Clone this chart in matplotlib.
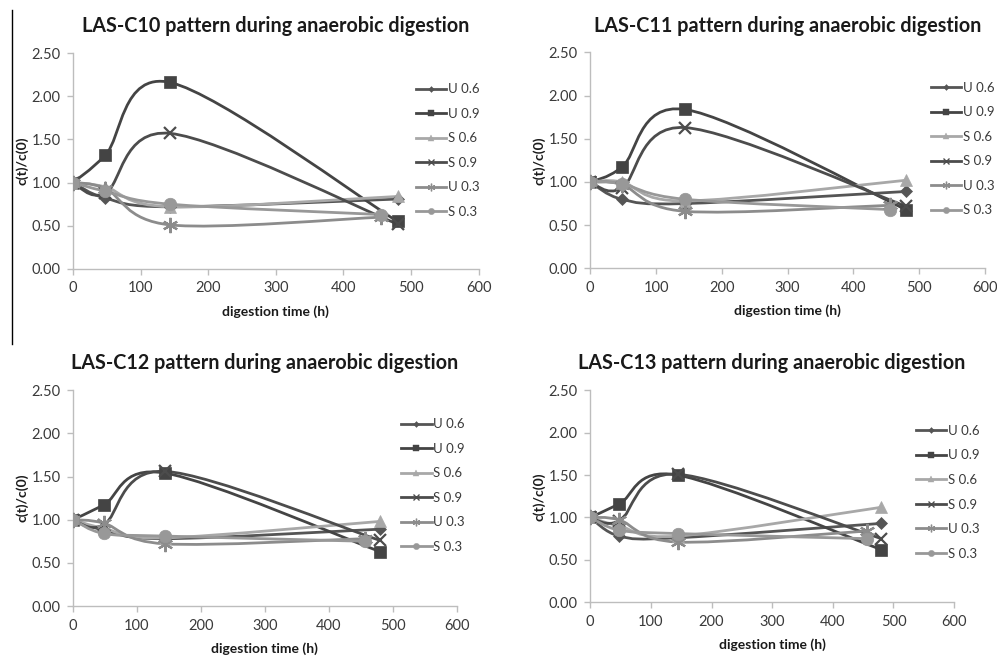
import matplotlib
matplotlib.use("Agg")
import matplotlib.pyplot as plt
from matplotlib.lines import Line2D
from matplotlib.patches import PathPatch
from matplotlib.path import Path

plt.rcParams["font.family"] = ["Lato", "DejaVu Sans"]

# sampling times (h); the U 0.3 / S 0.3 runs were stopped a little earlier
times_long = [0, 48, 144, 480]
times_short = [0, 48, 144, 456]

series_labels = ["U 0.6", "U 0.9", "S 0.6", "S 0.9", "U 0.3", "S 0.3"]
series_short = [False, False, False, False, True, True]

titles = [
    "LAS-C10 pattern during anaerobic digestion",
    "LAS-C11 pattern during anaerobic digestion",
    "LAS-C12 pattern during anaerobic digestion",
    "LAS-C13 pattern during anaerobic digestion",
]

# c(t)/c(0) per series, same order as series_labels
c10_values = [
    [1.00, 0.82, 0.72, 0.81],
    [1.00, 1.32, 2.16, 0.55],
    [1.00, 0.95, 0.72, 0.84],
    [1.00, 0.88, 1.57, 0.52],
    [1.00, 0.93, 0.51, 0.60],
    [1.00, 0.90, 0.75, 0.63],
]
c11_values = [
    [1.00, 0.80, 0.75, 0.89],
    [1.00, 1.17, 1.84, 0.68],
    [1.00, 1.00, 0.78, 1.02],
    [1.00, 0.93, 1.63, 0.72],
    [1.00, 0.97, 0.66, 0.73],
    [1.00, 0.98, 0.80, 0.68],
]
c12_values = [
    [1.00, 0.88, 0.78, 0.89],
    [1.00, 1.17, 1.54, 0.63],
    [1.00, 0.90, 0.79, 0.98],
    [1.00, 0.94, 1.56, 0.76],
    [1.00, 0.96, 0.72, 0.78],
    [1.00, 0.84, 0.81, 0.75],
]
c13_values = [
    [1.00, 0.78, 0.76, 0.93],
    [1.00, 1.16, 1.50, 0.62],
    [1.00, 0.90, 0.78, 1.12],
    [1.00, 0.96, 1.51, 0.75],
    [1.00, 0.97, 0.71, 0.84],
    [1.00, 0.85, 0.81, 0.75],
]
panel_values = [c10_values, c11_values, c12_values, c13_values]

colors = ["#555555", "#444444", "#a8a8a8", "#4c4c4c", "#8c8c8c", "#989898"]
markers = ["D", "s", "^", "x", (6, 2, 0), "o"]
marker_sizes = [6, 9, 9, 9, 11, 9]

# axes rectangles and legend anchors (figure fractions / axes fractions)
axes_rects = [
    [0.0732, 0.590, 0.407, 0.329],
    [0.592, 0.591, 0.396, 0.329],
    [0.0732, 0.0762, 0.385, 0.329],
    [0.592, 0.082, 0.365, 0.323],
]
legend_anchors = [(0.845, 0.549), (0.862, 0.553), (0.855, 0.558), (0.895, 0.519)]


def smooth_path(xs, ys):
    """Excel-like smoothed line: Catmull-Rom segments as cubic Beziers."""
    pts = list(zip(xs, ys))
    n = len(pts)
    verts = [pts[0]]
    codes = [Path.MOVETO]
    for i in range(n - 1):
        p0 = pts[max(i - 1, 0)]
        p1 = pts[i]
        p2 = pts[i + 1]
        p3 = pts[min(i + 2, n - 1)]
        c1 = (p1[0] + (p2[0] - p0[0]) / 6, p1[1] + (p2[1] - p0[1]) / 6)
        c2 = (p2[0] - (p3[0] - p1[0]) / 6, p2[1] - (p3[1] - p1[1]) / 6)
        verts += [c1, c2, p2]
        codes += [Path.CURVE4] * 3
    return Path(verts, codes)


fig = plt.figure(figsize=(9.97, 6.56), dpi=100)

for k, values in enumerate(panel_values):
    ax = fig.add_axes(axes_rects[k])
    handles = []
    for j, vals in enumerate(values):
        xs = times_short if series_short[j] else times_long
        patch = PathPatch(smooth_path(xs, vals), facecolor="none",
                          edgecolor=colors[j], lw=2.0, zorder=2 + j * 0.1,
                          transform=ax.transData)
        ax.add_patch(patch)
        mew = 1.6 if markers[j] == "x" or isinstance(markers[j], tuple) else 0.5
        ax.plot(xs, vals, linestyle="none", marker=markers[j],
                markersize=marker_sizes[j], color=colors[j],
                markeredgecolor=colors[j], markeredgewidth=mew,
                zorder=3 + j * 0.1)
        handles.append(Line2D([], [], color=colors[j], lw=2.0,
                              marker=markers[j], markersize=marker_sizes[j] * 0.5,
                              markeredgewidth=mew * 0.6))

    ax.set_xlim(0, 600)
    ax.set_ylim(0, 2.5)
    ax.set_xticks(range(0, 601, 100))
    ax.set_yticks([0, 0.5, 1.0, 1.5, 2.0, 2.5])
    ax.set_yticklabels([f"{v:.2f}" for v in [0, 0.5, 1.0, 1.5, 2.0, 2.5]])
    for side in ("top", "right"):
        ax.spines[side].set_visible(False)
    for side in ("left", "bottom"):
        ax.spines[side].set_color("#bdbdbd")
        ax.spines[side].set_linewidth(1.0)
    ax.tick_params(direction="out", length=4, width=1.0, color="#bdbdbd",
                   labelcolor="#3a3a3a", labelsize=10.5, pad=5)

    ax.set_title(titles[k], fontsize=14.2, fontweight="bold", color="#1a1a1a",
                 pad=15)
    ax.set_xlabel("digestion time (h)", fontsize=10, fontweight="bold",
                  color="#1a1a1a", labelpad=7)
    ax.set_ylabel("c(t)/c(0)", fontsize=10, fontweight="bold",
                  color="#1a1a1a", labelpad=2)

    ax.legend(handles, series_labels, loc="center left",
              bbox_to_anchor=legend_anchors[k], frameon=False, fontsize=9.5,
              handlelength=2.3, handletextpad=0.15, labelspacing=0.95,
              borderpad=0, borderaxespad=0, labelcolor="#3a3a3a")

# thin black rule at the left edge of the scanned figure
fig.add_artist(Line2D([12 / 997, 12 / 997], [1 - 10 / 656, 1 - 344 / 656],
                      color="black", lw=1.0))

fig.savefig("out.png", dpi=100)
